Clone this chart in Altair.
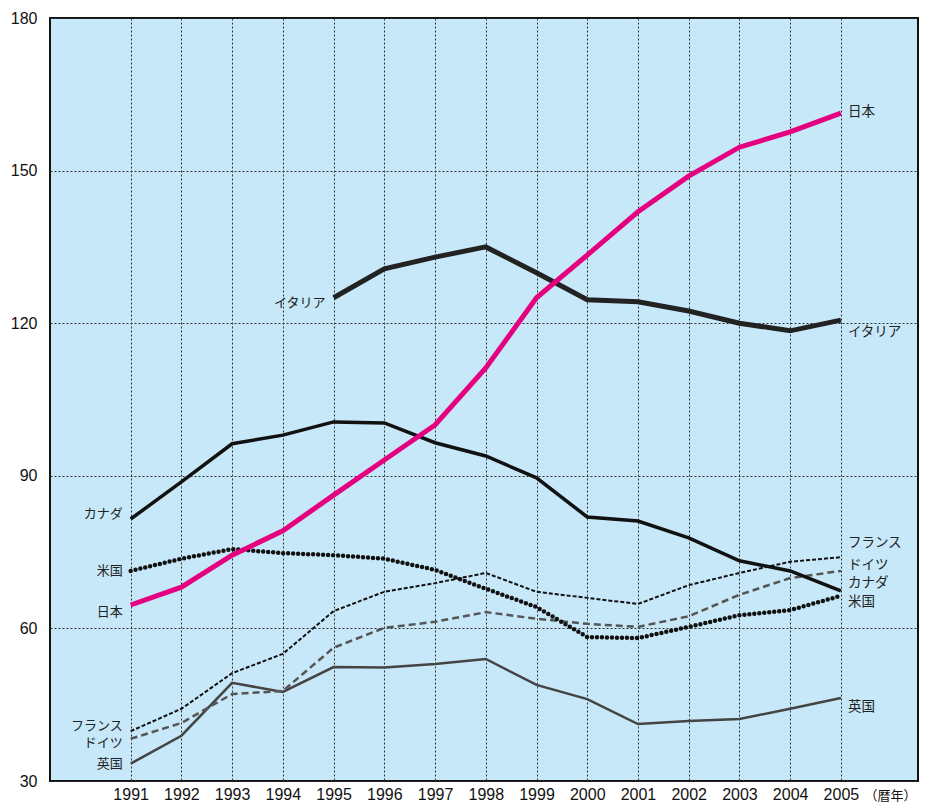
import altair as alt
import pandas as pd

years = list(range(1991, 2006))
japan = [64.6, 68.1, 74.4, 79.2, 86.2, 93.1, 100.0, 111.2, 125.0, 133.4, 141.9, 148.9, 154.6, 157.6, 161.3]
italy = [None, None, None, None, 125.0, 130.7, 133.0, 135.0, 129.9, 124.6, 124.2, 122.4, 120.0, 118.5, 120.6]
canada = [81.5, 88.8, 96.3, 98.0, 100.6, 100.4, 96.5, 93.9, 89.6, 81.9, 81.1, 77.8, 73.3, 71.3, 67.4]
usa = [71.3, 73.7, 75.6, 74.8, 74.4, 73.7, 71.5, 67.8, 64.2, 58.3, 58.1, 60.3, 62.6, 63.6, 66.4]
france = [39.8, 44.2, 51.2, 55.0, 63.4, 67.2, 68.9, 70.9, 67.2, 66.0, 64.8, 68.5, 70.9, 73.1, 74.0]
germany = [38.3, 41.4, 47.1, 47.7, 56.2, 60.1, 61.3, 63.2, 61.9, 60.9, 60.3, 62.4, 66.6, 69.9, 71.3]
uk = [33.4, 38.9, 49.3, 47.5, 52.4, 52.3, 53.0, 54.0, 48.9, 46.1, 41.2, 41.8, 42.2, 44.2, 46.3]

series = {
    "英国": uk,
    "ドイツ": germany,
    "フランス": france,
    "米国": usa,
    "カナダ": canada,
    "イタリア": italy,
    "日本": japan,
}

# label anchors (text, year, value, side)
label_text = ["カナダ", "米国", "日本", "フランス", "ドイツ", "英国", "イタリア",
              "日本", "イタリア", "フランス", "ドイツ", "カナダ", "米国", "英国"]
label_year = [1991, 1991, 1991, 1991, 1991, 1991, 1995,
              2005, 2005, 2005, 2005, 2005, 2005, 2005]
label_value = [82.5, 71.3, 63.2, 40.8, 37.4, 33.4, 124.0,
               161.5, 118.3, 76.8, 72.5, 68.9, 65.2, 44.6]
label_side = ["L", "L", "L", "L", "L", "L", "L",
              "R", "R", "R", "R", "R", "R", "R"]

y_ticks = [30, 60, 90, 120, 150, 180]

rows = []
for name, vals in series.items():
    for yr, v in zip(years, vals):
        if v is not None:
            rows.append({"year": yr, "value": v, "series": name})
df = pd.DataFrame(rows)

labels = pd.DataFrame({"text": label_text, "year": label_year,
                       "value": label_value, "side": label_side})

styles = {
    "英国": dict(color="#444444", strokeWidth=2.5),
    "ドイツ": dict(color="#555555", strokeWidth=2.5, strokeDash=[7, 4]),
    "フランス": dict(color="#111111", strokeWidth=2, strokeDash=[4, 2]),
    "米国": dict(color="#111111", strokeWidth=4.5, strokeDash=[0, 5], strokeCap="round"),
    "カナダ": dict(color="#111111", strokeWidth=3.5),
    "イタリア": dict(color="#222222", strokeWidth=5),
    "日本": dict(color="#e5007f", strokeWidth=5),
}

xscale = alt.Scale(domain=[1989.41, 2006.52], nice=False, zero=False)
yscale = alt.Scale(domain=[30, 180], nice=False, zero=False)

num_font = "Liberation Sans"
jp_font = "Noto Sans CJK JP"

xaxis = alt.Axis(values=years, format="d", grid=True, gridDash=[2, 2], gridColor="#333333",
                 gridWidth=1, ticks=False, domain=False, labelFont=num_font, labelFontSize=16,
                 labelColor="#111111", labelPadding=5, labelFlush=False, labelOverlap=False,
                 title="（暦年）", titleX=814, titleY=14, titleAlign="left",
                 titleBaseline="middle", titleFont=jp_font, titleFontSize=13,
                 titleFontWeight="normal", titleColor="#111111")
yaxis = alt.Axis(values=y_ticks, grid=True, gridDash=[2, 2], gridColor="#333333", gridWidth=1,
                 ticks=False, domain=False, labelFont=num_font, labelFontSize=16,
                 labelColor="#111111", labelPadding=13, labelFlush=False, labelOverlap=False,
                 title=None)

X = alt.X("year:Q", scale=xscale, axis=xaxis)
Y = alt.Y("value:Q", scale=yscale, axis=yaxis)

base = alt.Chart(df)
layers = []
for name in series:
    kw = styles[name]
    layers.append(
        base.transform_filter(alt.datum.series == name)
        .mark_line(**kw)
        .encode(x=X, y=Y)
    )

lab = alt.Chart(labels)
left_labels = lab.transform_filter(alt.datum.side == "L").mark_text(
    align="right", baseline="middle", dx=-8, font=jp_font, fontSize=13, color="#222222"
).encode(x=X, y=Y, text="text:N")
right_labels = lab.transform_filter(alt.datum.side == "R").mark_text(
    align="left", baseline="middle", dx=7, font=jp_font, fontSize=13.5, color="#222222"
).encode(x=X, y=Y, text="text:N")

chart = alt.layer(*layers, left_labels, right_labels).properties(
    width=868, height=763,
    autosize=alt.AutoSizeParams(type="none"),
    padding={"left": 42, "top": 10, "right": 1, "bottom": 22},
).configure_view(fill="#c7e8f8", stroke="#111111", strokeWidth=2)

chart.save("out.html", embed_options={"renderer": "svg", "actions": False})
